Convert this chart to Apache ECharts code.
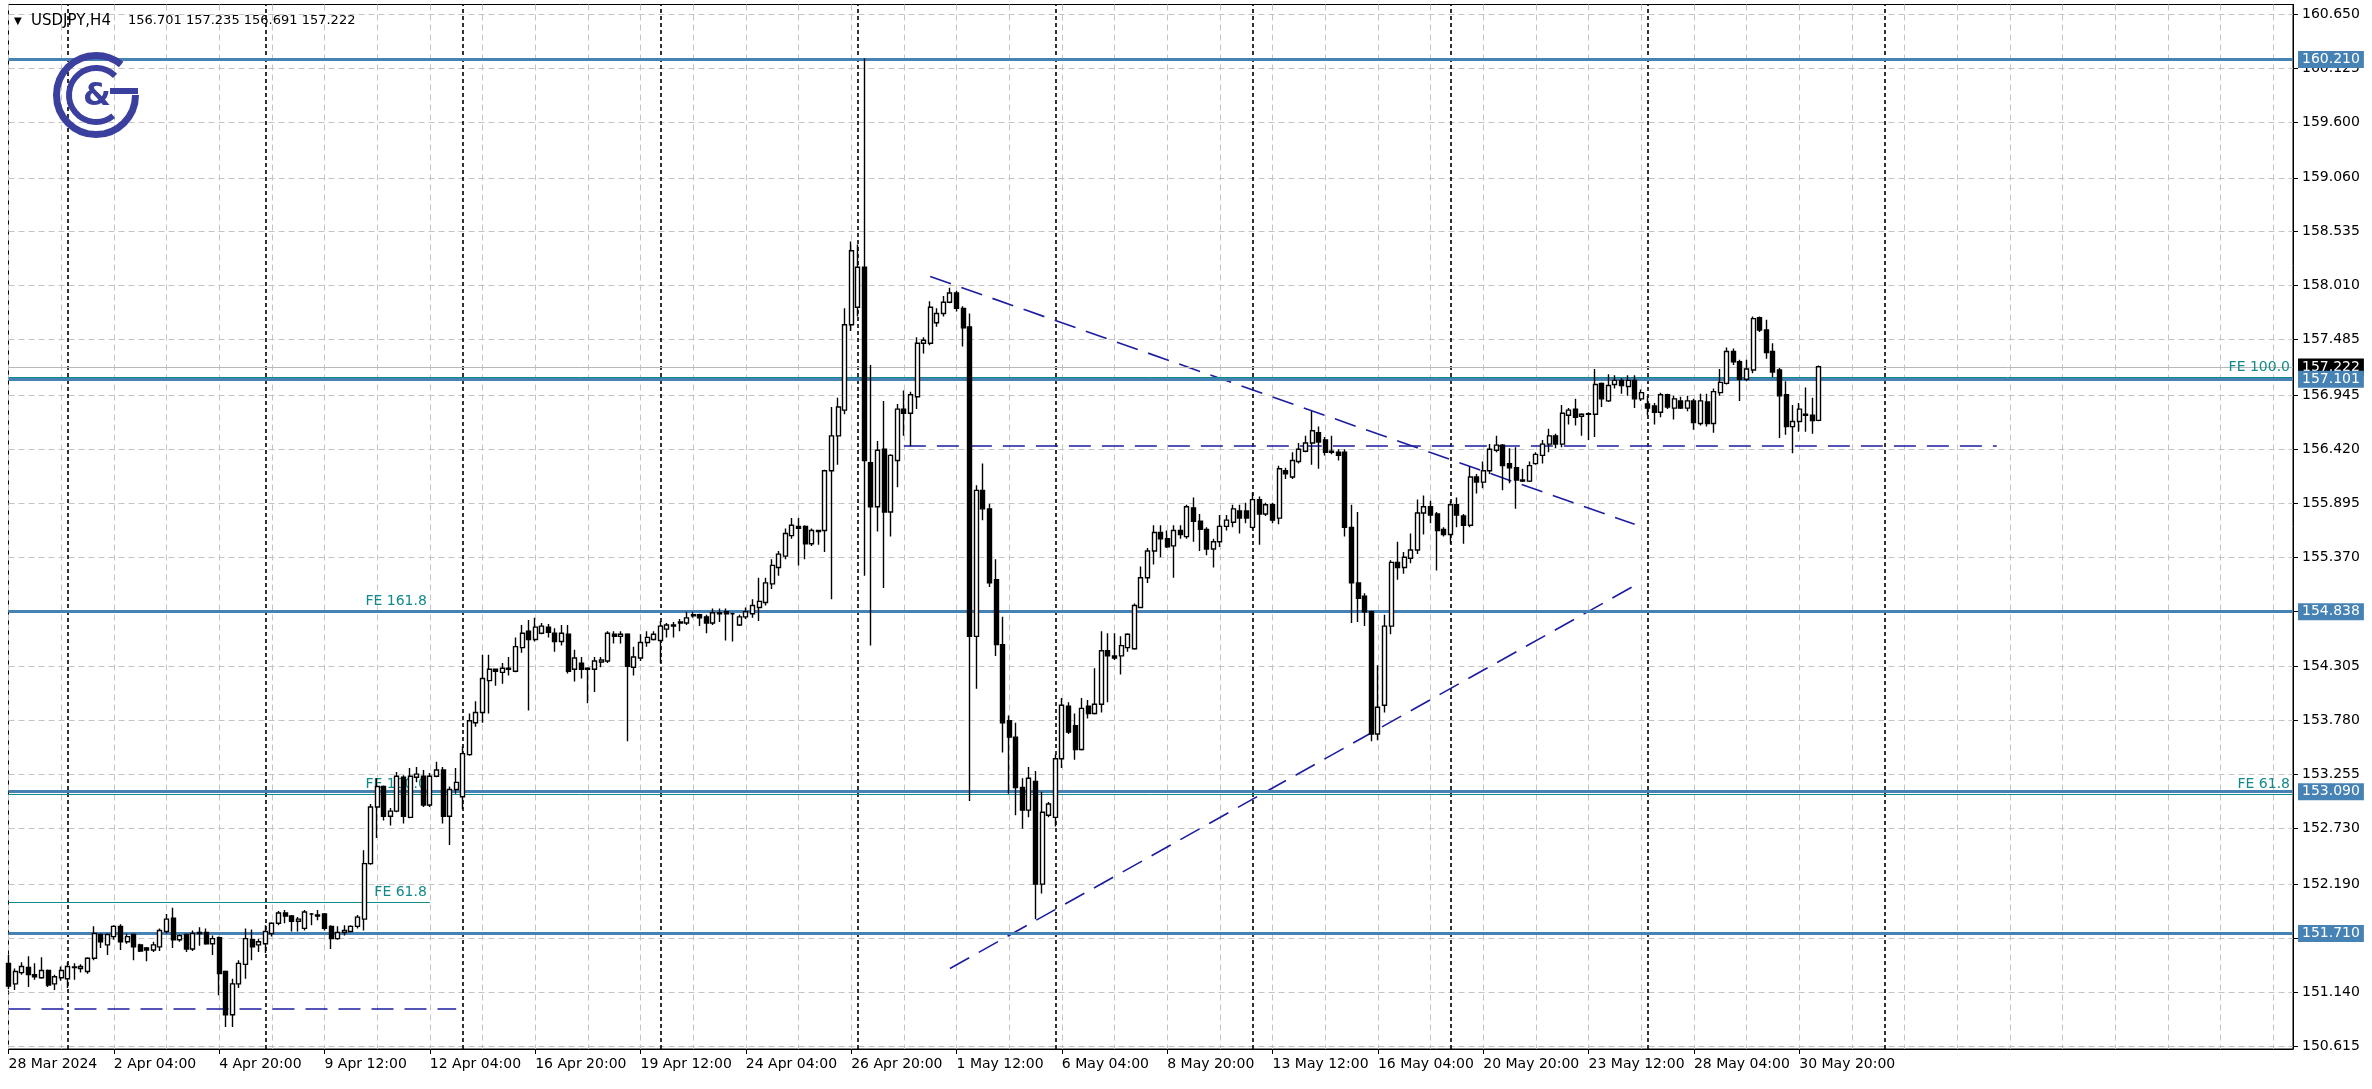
<!DOCTYPE html>
<html><head><meta charset="utf-8">
<script src="https://cdn.jsdelivr.net/npm/echarts@6/dist/echarts.min.js"></script>
<style>html,body{margin:0;padding:0;background:#fff;overflow:hidden}#c{width:2372px;height:1089px}</style>
</head><body><div id="c"></div>
<script>
// ---- data (USDJPY H4) ----
const tickLabelsX = ['28 Mar 2024','2 Apr 04:00','4 Apr 20:00','9 Apr 12:00','12 Apr 04:00','16 Apr 20:00','19 Apr 12:00','24 Apr 04:00','26 Apr 20:00','1 May 12:00','6 May 04:00','8 May 20:00','13 May 12:00','16 May 04:00','20 May 20:00','23 May 12:00','28 May 04:00','30 May 20:00'];
const priceTicks = [150.615,151.140,151.665,152.190,152.730,153.255,153.780,154.305,154.840,155.370,155.895,156.420,156.945,157.485,158.010,158.535,159.060,159.600,160.125,160.650];

const open = [
151.42,151.22,151.33,151.38,151.31,151.28,151.35,151.22,151.28,151.27,
151.38,151.37,151.34,151.47,151.70,151.60,151.68,151.78,151.63,151.70,
151.60,151.57,151.55,151.58,151.73,151.86,151.65,151.70,151.56,151.71,
151.72,151.61,151.67,151.34,150.92,151.22,151.41,151.65,151.60,151.61,
151.71,151.81,151.91,151.88,151.83,151.76,151.90,151.89,151.90,151.78,
151.66,151.72,151.73,151.78,151.85,152.39,152.94,153.14,152.85,152.90,
153.23,152.84,153.23,153.24,152.96,153.24,153.30,152.85,153.11,153.04,
153.45,153.76,153.86,154.17,154.28,154.25,154.28,154.26,154.49,154.65,
154.57,154.63,154.69,154.63,154.55,154.62,154.28,154.34,154.28,154.28,
154.35,154.36,154.62,154.60,154.62,154.30,154.39,154.54,154.57,154.56,
154.67,154.71,154.73,154.73,154.80,154.81,154.79,154.73,154.82,154.84,
154.82,154.71,154.79,154.82,154.88,154.93,155.11,155.27,155.38,155.58,
155.67,155.67,155.50,155.63,155.63,156.21,156.55,156.80,157.63,157.80,
158.19,156.29,155.86,156.42,155.81,156.31,156.81,156.77,156.93,157.45,
157.45,157.65,157.74,157.85,157.94,157.79,157.61,154.60,156.02,155.84,
155.15,154.52,153.78,153.62,153.13,152.91,153.19,152.19,152.86,152.84,
153.41,153.92,153.73,153.50,153.92,153.85,153.94,154.46,154.41,154.41,
154.49,154.48,154.88,155.17,155.43,155.61,155.55,155.48,155.63,155.57,
155.85,155.72,155.64,155.45,155.52,155.67,155.71,155.82,155.82,155.66,
155.93,155.79,155.88,155.75,156.21,156.15,156.30,156.40,156.48,156.58,
156.51,156.40,156.39,156.39,155.66,155.12,154.99,154.84,153.65,153.93,
154.70,155.32,155.27,155.36,155.44,155.80,155.86,155.79,155.64,155.59,
155.88,155.77,155.68,156.15,156.10,156.21,156.41,156.46,156.28,156.24,
156.12,156.11,156.28,156.36,156.47,156.55,156.47,156.75,156.81,156.74,
156.76,156.76,157.06,156.89,157.05,157.09,157.03,157.09,156.91,156.86,
156.84,156.78,156.95,156.82,156.89,156.82,156.89,156.67,156.88,156.67,
156.97,157.06,157.37,157.27,157.10,157.19,157.70,157.58,157.37,157.19,
156.95,156.64,156.69,156.76,156.75,156.701];
const high = [
151.50,151.37,151.43,151.49,151.42,151.48,151.36,151.31,151.39,151.43,
151.42,151.41,151.48,151.78,151.71,151.71,151.79,151.80,151.71,151.71,
151.61,151.58,151.63,151.76,151.90,151.96,151.70,151.71,151.74,151.77,
151.76,151.69,151.68,151.35,151.27,151.45,151.76,151.75,151.66,151.79,
151.82,151.93,151.94,151.89,151.87,151.94,151.91,151.94,151.91,151.79,
151.78,151.79,151.79,151.89,152.52,152.97,153.22,153.15,152.93,153.28,
153.25,153.32,153.33,153.30,153.27,153.38,153.33,153.14,153.32,153.53,
153.85,153.97,154.42,154.42,154.28,154.34,154.40,154.59,154.71,154.76,
154.78,154.73,154.72,154.68,154.71,154.71,154.47,154.40,154.30,154.40,
154.40,154.65,154.65,154.65,154.63,154.50,154.62,154.65,154.65,154.75,
154.73,154.74,154.77,154.84,154.84,154.82,154.81,154.87,154.87,154.87,
154.83,154.81,154.88,154.96,155.17,155.17,155.35,155.43,155.65,155.75,
155.75,155.68,155.65,155.63,156.22,156.83,156.92,157.79,158.44,158.41,
160.22,157.24,156.50,156.89,156.37,156.86,156.99,156.98,157.51,157.51,
157.86,157.79,157.91,157.99,157.96,157.81,157.74,156.07,156.28,155.89,
155.35,154.79,153.83,153.76,153.22,153.33,153.29,153.09,152.99,153.45,
154.00,153.96,153.85,154.00,153.98,154.29,154.65,154.63,154.63,154.60,
154.63,154.92,155.28,155.46,155.68,155.68,155.63,155.68,155.68,155.88,
155.95,155.79,155.66,155.55,155.78,155.78,155.88,155.88,155.90,156.00,
155.96,155.90,155.90,156.26,156.24,156.39,156.48,156.55,156.79,156.64,
156.54,156.55,156.42,156.42,155.88,155.81,155.02,154.85,154.32,154.81,
155.34,155.52,155.42,155.60,155.93,155.97,155.92,155.81,155.66,155.92,
155.95,155.79,156.25,156.18,156.30,156.47,156.55,156.47,156.43,156.44,
156.23,156.30,156.39,156.51,156.62,156.57,156.85,156.82,156.91,156.77,
156.78,157.20,157.07,157.15,157.14,157.11,157.14,157.14,157.00,156.94,
156.87,156.97,156.96,156.94,156.93,156.94,156.91,156.96,156.96,157.01,
157.20,157.41,157.40,157.29,157.29,157.71,157.71,157.68,157.45,157.21,
157.08,156.85,156.87,157.02,156.92,157.235];
const low = [
151.17,151.16,151.31,151.19,151.26,151.27,151.19,151.16,151.25,151.18,
151.26,151.33,151.32,151.45,151.57,151.50,151.65,151.55,151.61,151.45,
151.53,151.44,151.53,151.54,151.71,151.57,151.63,151.53,151.54,151.59,
151.60,151.50,151.11,150.80,150.80,151.18,151.27,151.45,151.53,151.52,
151.68,151.79,151.81,151.73,151.73,151.74,151.79,151.84,151.74,151.56,
151.65,151.69,151.72,151.76,151.74,152.38,152.64,152.81,152.76,152.89,
152.78,152.83,153.18,152.94,152.94,153.23,152.78,152.57,153.07,152.92,
153.44,153.72,153.76,153.85,154.12,154.14,154.22,154.25,154.44,153.88,
154.55,154.62,154.59,154.45,154.51,154.24,154.16,154.19,153.95,154.06,
154.30,154.34,154.53,154.53,153.58,154.22,154.36,154.50,154.56,154.34,
154.59,154.59,154.65,154.71,154.78,154.70,154.63,154.71,154.74,154.56,
154.55,154.70,154.77,154.78,154.75,154.90,155.06,155.19,155.35,155.55,
155.29,155.35,155.48,155.49,155.42,154.96,156.27,156.76,157.57,157.71,
155.19,154.51,155.62,155.07,155.57,156.05,156.55,156.45,156.81,157.35,
157.43,157.61,157.71,157.84,157.76,157.42,153.00,154.09,155.73,155.08,
154.41,153.47,153.07,152.86,152.73,152.84,151.85,152.10,152.84,152.75,
153.32,153.65,153.40,153.49,153.80,153.84,153.86,153.96,154.37,154.23,
154.45,154.47,154.88,155.12,155.30,155.37,155.46,155.17,155.55,155.55,
155.52,155.43,155.39,155.27,155.47,155.63,155.66,155.60,155.70,155.64,
155.49,155.77,155.70,155.69,156.13,156.13,156.28,156.39,156.27,156.23,
156.36,156.37,156.31,155.57,154.73,154.74,154.70,153.58,153.59,153.86,
154.62,155.15,155.21,155.31,155.40,155.59,155.70,155.24,155.57,155.50,
155.66,155.50,155.66,155.99,156.04,156.18,156.39,156.02,156.09,155.84,
156.10,156.10,156.27,156.28,156.39,156.43,156.44,156.66,156.65,156.55,
156.51,156.54,156.83,156.88,157.01,156.96,156.94,156.82,156.89,156.75,
156.66,156.73,156.81,156.71,156.81,156.79,156.61,156.65,156.64,156.58,
156.94,157.05,157.24,156.89,157.08,157.16,157.56,157.30,157.12,156.53,
156.56,156.38,156.59,156.59,156.57,156.691];
const close = [
151.20,151.34,151.39,151.31,151.29,151.35,151.21,151.29,151.35,151.39,
151.385,151.39,151.47,151.71,151.63,151.70,151.78,151.63,151.68,151.58,
151.54,151.55,151.60,151.74,151.85,151.65,151.69,151.56,151.71,151.72,
151.61,151.66,151.32,150.92,151.22,151.42,151.66,151.58,151.63,151.73,
151.81,151.91,151.88,151.83,151.85,151.92,151.90,151.88,151.76,151.66,
151.72,151.74,151.78,151.87,152.39,152.94,153.14,152.85,152.90,153.24,
152.85,153.24,153.26,152.96,153.24,153.30,152.85,153.11,153.18,153.46,
153.78,153.86,154.19,154.28,154.26,154.29,154.29,154.50,154.63,154.57,
154.69,154.70,154.64,154.55,154.63,154.26,154.39,154.28,154.29,154.36,
154.37,154.63,154.60,154.62,154.31,154.40,154.54,154.59,154.62,154.70,
154.71,154.70,154.74,154.78,154.81,154.78,154.73,154.83,154.83,154.82,
154.82,154.79,154.84,154.90,154.94,155.12,155.29,155.40,155.60,155.68,
155.65,155.50,155.63,155.62,156.21,156.55,156.83,157.63,158.35,158.19,
156.31,155.86,156.41,155.81,156.36,156.81,156.77,156.95,157.45,157.48,
157.80,157.74,157.85,157.94,157.79,157.60,154.60,156.02,155.84,155.12,
154.52,153.76,153.62,153.13,152.91,153.22,152.19,152.89,152.97,153.41,
153.93,153.67,153.50,153.90,153.85,153.94,154.46,154.41,154.39,154.51,
154.62,154.90,155.17,155.43,155.61,155.55,155.47,155.63,155.59,155.86,
155.72,155.64,155.45,155.52,155.67,155.73,155.84,155.75,155.75,155.93,
155.79,155.88,155.73,156.23,156.18,156.31,156.42,156.48,156.60,156.49,
156.39,156.39,156.36,155.66,155.12,154.97,154.84,153.65,153.91,154.70,
155.32,155.27,155.37,155.44,155.80,155.86,155.78,155.63,155.59,155.88,
155.78,155.68,156.15,156.10,156.21,156.42,156.46,156.26,156.24,156.12,
156.11,156.26,156.37,156.47,156.55,156.47,156.77,156.80,156.73,156.76,
156.765,157.05,156.91,157.04,157.09,157.04,157.09,156.91,156.97,156.82,
156.78,156.95,156.83,156.91,156.82,156.89,156.68,156.89,156.67,156.98,
157.07,157.37,157.27,157.10,157.20,157.69,157.58,157.36,157.17,156.94,
156.64,156.69,156.81,156.75,156.70,157.222];

const levels = [160.210, 157.101, 154.838, 153.090, 151.710];
const bidPrice = 157.222;
const weekSeparators = [9, 39, 69, 99, 129, 159, 189, 219, 249, 285];
const trendDown = [[140, 158.10], [247, 155.69]];
const trendUp = [[143, 151.37], [248, 155.13]];
const dashLow = [[0, 150.98], [68, 150.98]];
const dashMid = [[136, 156.45], [302, 156.45]];
const feLeftLevels = [154.845, 153.065, 152.010];
const feLeftNames = ['FE 161.8', 'FE 100.0', 'FE 61.8'];
const feLeftSpan = [0, 64];
const feRightLevels = [157.115, 153.065];
const feRightNames = ['FE 100.0', 'FE 61.8'];
const totalSlots = 348;
const headerSymbol = 'USDJPY,H4';
const headerValues = '156.701 157.235 156.691 157.222';

// ---- build ----
const slots = Array.from({length: totalSlots}, (_, i) => String(i));
const candles = open.map((o, i) => [o, close[i], low[i], high[i]]);
const FONT = 'DejaVu Sans';
const BLUE = '#4682b4', TEAL = '#138a8a', NAVY = '#1c1ca0';
const isLabelSlot = i => i % 16 === 0 && i / 16 < tickLabelsX.length;

const chart = echarts.init(document.getElementById('c'), null, {renderer: 'canvas'});
const mlBase = {silent: true, symbol: ['none', 'none'], animation: false, emphasis: {disabled: true}};

const option = {
  animation: false,
  backgroundColor: '#ffffff',
  grid: {left: 8.5, right: 79, top: 4.5, bottom: 40, show: true, borderColor: '#000', borderWidth: 1,
         containLabel: false, outerBoundsMode: 'none'},
  xAxis: {
    type: 'category', data: slots, boundaryGap: false,
    axisLine: {show: true, onZero: false, lineStyle: {color: '#000', width: 1}},
    axisTick: {show: true, interval: isLabelSlot, length: 5, lineStyle: {color: '#000'}},
    axisLabel: {show: true, interval: isLabelSlot, formatter: (v, i) => tickLabelsX[i / 16] || '',
                align: 'left', margin: 8, fontSize: 14, fontFamily: FONT, color: '#000', hideOverlap: false},
    splitLine: {show: true, interval: i => i % 8 === 0, lineStyle: {color: '#c4c4c4', type: [6, 4], width: 1}}
  },
  yAxis: {
    type: 'value', position: 'right', min: 150.587, max: 160.745, scale: true,
    axisLine: {show: true, lineStyle: {color: '#000', width: 1}},
    axisTick: {show: true, length: 5, customValues: priceTicks, lineStyle: {color: '#000'}},
    axisLabel: {customValues: priceTicks, formatter: v => v.toFixed(3), margin: 9, fontSize: 14,
                fontFamily: FONT, color: '#000'},
    splitLine: {show: true, lineStyle: {color: '#c4c4c4', type: [6, 4], width: 1}}
  },
  graphic: [
    {type: 'text', z: 100, style: {text: '▼', x: 14, y: 21, font: '10px ' + FONT, fill: '#000', verticalAlign: 'middle'}},
    {type: 'text', z: 100, style: {text: headerSymbol, x: 31, y: 21, font: '15px ' + FONT, fill: '#000', verticalAlign: 'middle'}},
    {type: 'text', z: 100, style: {text: headerValues, x: 128, y: 21, font: '13px ' + FONT, fill: '#000', verticalAlign: 'middle'}},
    {type: 'arc', z: 100, shape: {cx: 96, cy: 95, r: 39.5, startAngle: 0, endAngle: Math.PI * 1.72}, style: {stroke: '#3b3f9e', lineWidth: 7, fill: null}},
    {type: 'arc', z: 100, shape: {cx: 96, cy: 95, r: 27, startAngle: Math.PI * 0.28, endAngle: Math.PI * 1.75}, style: {stroke: '#3b3f9e', lineWidth: 6, fill: null}},
    {type: 'line', z: 100, shape: {x1: 110, y1: 91, x2: 138, y2: 91}, style: {stroke: '#3b3f9e', lineWidth: 6}},
    {type: 'text', z: 100, style: {text: '&', x: 97, y: 97, font: 'bold 32px ' + FONT, fill: '#3b3f9e', align: 'center', verticalAlign: 'middle'}}
  ],
  series: [
    { // weekly period separators
      type: 'line', data: [], z: 1,
      markLine: Object.assign({}, mlBase, {
        lineStyle: {color: '#000', type: [4, 3], width: 1.6},
        label: {show: false},
        data: weekSeparators.map(x => ({xAxis: x}))
      })
    },
    { // navy dashed trend lines
      type: 'line', data: [], z: 1,
      markLine: Object.assign({}, mlBase, {
        lineStyle: {color: NAVY, type: [22, 11], width: 1.6},
        label: {show: false},
        data: [trendDown, trendUp, dashLow, dashMid].map(seg => seg.map(p => ({coord: p})))
      })
    },
    { // teal Fibonacci expansion levels
      type: 'line', data: [], z: 1,
      markLine: Object.assign({}, mlBase, {
        lineStyle: {color: TEAL, type: 'solid', width: 1},
        label: {show: true, position: 'insideEndTop', color: TEAL, fontSize: 14, fontFamily: FONT, distance: 3},
        data: feLeftLevels.map((v, k) => [
          {coord: [feLeftSpan[0], v], label: {formatter: feLeftNames[k]}},
          {coord: [feLeftSpan[1], v]}
        ]).concat(feRightLevels.map((v, k) => ({yAxis: v, label: {formatter: feRightNames[k]}})))
      })
    },
    { // bid line
      type: 'line', data: [], z: 1,
      markLine: Object.assign({}, mlBase, {
        lineStyle: {color: '#b8b8b8', type: 'solid', width: 1},
        label: {show: true, position: 'end', formatter: bidPrice.toFixed(3), color: '#fff', backgroundColor: '#000',
                padding: [2, 4, 1, 4], fontSize: 14, fontFamily: FONT, distance: 5},
        data: [{yAxis: bidPrice}]
      })
    },
    { // horizontal support / resistance levels
      type: 'line', data: [], z: 1,
      markLine: Object.assign({}, mlBase, {
        lineStyle: {color: BLUE, type: 'solid', width: 3},
        label: {show: true, position: 'end', color: '#fff', backgroundColor: BLUE,
                padding: [2, 4, 1, 4], fontSize: 14, fontFamily: FONT, distance: 5},
        data: levels.map(v => ({yAxis: v, label: {formatter: v.toFixed(3)}}))
      })
    },
    {
      type: 'candlestick', name: 'USDJPY', z: 5, data: candles, barWidth: 4.5, silent: true,
      emphasis: {disabled: true},
      itemStyle: {color: '#ffffff', color0: '#000000', borderColor: '#000', borderColor0: '#000',
                  borderColorDoji: '#000', borderWidth: 1.4}
    }
  ]
};
chart.setOption(option);
</script>
</body></html>
